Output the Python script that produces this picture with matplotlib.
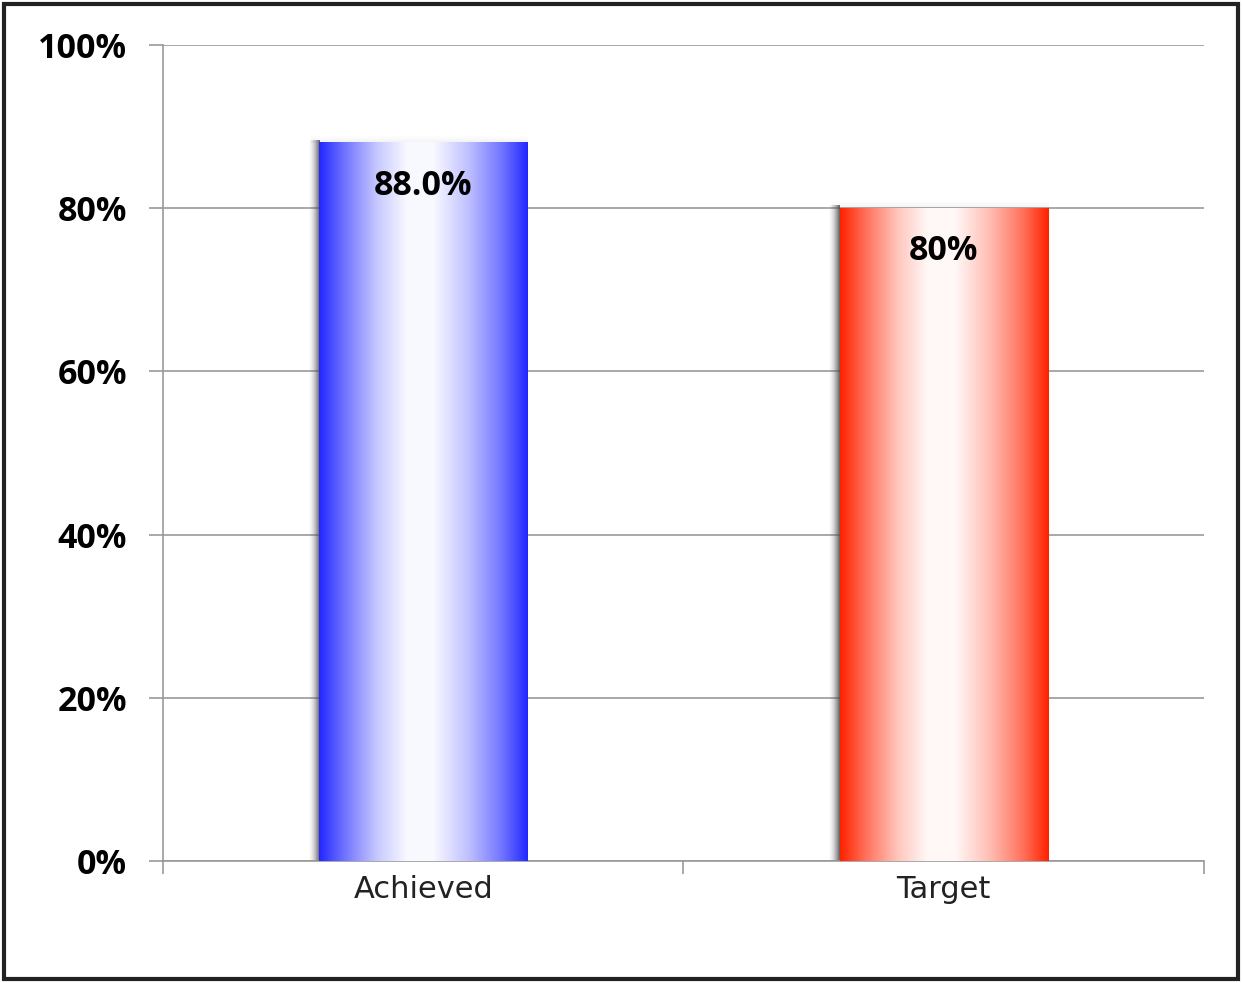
import numpy as np
import matplotlib
matplotlib.use("Agg")
import matplotlib.pyplot as plt
from matplotlib.colors import LinearSegmentedColormap, to_rgb
from matplotlib.patches import Rectangle

categories = ["Achieved", "Target"]
values = [0.88, 0.80]
value_labels = ["88.0%", "80%"]
edge_colors = ["#2328ff", "#ff2200"]
y_ticks = [0, 0.2, 0.4, 0.6, 0.8, 1.0]
y_tick_labels = ["0%", "20%", "40%", "60%", "80%", "100%"]

fig = plt.figure(figsize=(12.42, 9.83), dpi=100)
ax = fig.add_axes([0.1312, 0.1241, 0.8382, 0.8301])

x = np.arange(len(categories))
bars = ax.bar(x, values, width=0.4, color="none", edgecolor="none", zorder=3)

# horizontal gradient profile: edge -> white -> edge
def bar_cmap(edge):
    e = np.array(to_rgb(edge))
    w = np.ones(3)
    stops = [(0.0, 0.0), (0.12, 0.35), (0.28, 0.75), (0.42, 0.97),
             (0.55, 0.97), (0.72, 0.7), (0.88, 0.35), (1.0, 0.0)]
    return LinearSegmentedColormap.from_list(
        "g", [(p, tuple(e + (w - e) * f)) for p, f in stops])

grad = np.linspace(0, 1, 256).reshape(1, -1)
for b, ec in zip(bars, edge_colors):
    x0, w, h = b.get_x(), b.get_width(), b.get_height()
    # soft shadow on the left and top
    sh = np.zeros((1, 64, 4))
    sh[..., :3] = 0.3
    sh[0, :, 3] = np.linspace(0, 0.95, 64) ** 1.8
    ax.imshow(sh, extent=[x0 - 0.022, x0, 0, h + 0.003], aspect="auto", zorder=2)
    sv = np.zeros((64, 1, 4))
    sv[..., :3] = 0.5
    sv[:, 0, 3] = np.linspace(0, 0.35, 64) ** 2
    ax.imshow(sv, extent=[x0 - 0.015, x0 + w, h, h + 0.012], aspect="auto", zorder=2)
    ax.imshow(grad, cmap=bar_cmap(ec), extent=[x0, x0 + w, 0, h],
              aspect="auto", zorder=3)

for b, lab in zip(bars, value_labels):
    ax.annotate(lab, (b.get_x() + b.get_width() / 2, b.get_height()),
                xytext=(0, -31), textcoords="offset points", ha="center",
                va="center", fontsize=24.5, fontweight="bold", family="Open Sans",
                zorder=4)

ax.set_xlim(-0.5, len(categories) - 0.5)
ax.set_ylim(0, 1.0)
ax.set_yticks(y_ticks)
ax.set_yticklabels(y_tick_labels, fontsize=24.5, fontweight="bold", family="Open Sans")
ax.set_xticks(np.arange(len(categories) + 1) - 0.5)
ax.set_xticklabels([])
ax.set_xticks(x, minor=True)
ax.set_xticklabels(categories, minor=True, fontsize=22, color="#222222")
ax.tick_params(axis="x", which="major", length=9, color="#999999", width=1.2)
ax.tick_params(axis="x", which="minor", length=0, pad=10)
ax.tick_params(axis="y", length=10, color="#999999", width=1.2, pad=16)

ax.yaxis.grid(True, color="#999999", linewidth=1.2, zorder=1)
ax.set_axisbelow(True)
for s in ["top", "right"]:
    ax.spines[s].set_visible(False)
for s in ["left", "bottom"]:
    ax.spines[s].set_color("#999999")
    ax.spines[s].set_linewidth(1.2)

fig.patches.append(Rectangle((0.003, 0.004), 0.994, 0.992, transform=fig.transFigure,
                             fill=False, edgecolor="#222222", linewidth=3))

fig.savefig("out.png", dpi=100)
